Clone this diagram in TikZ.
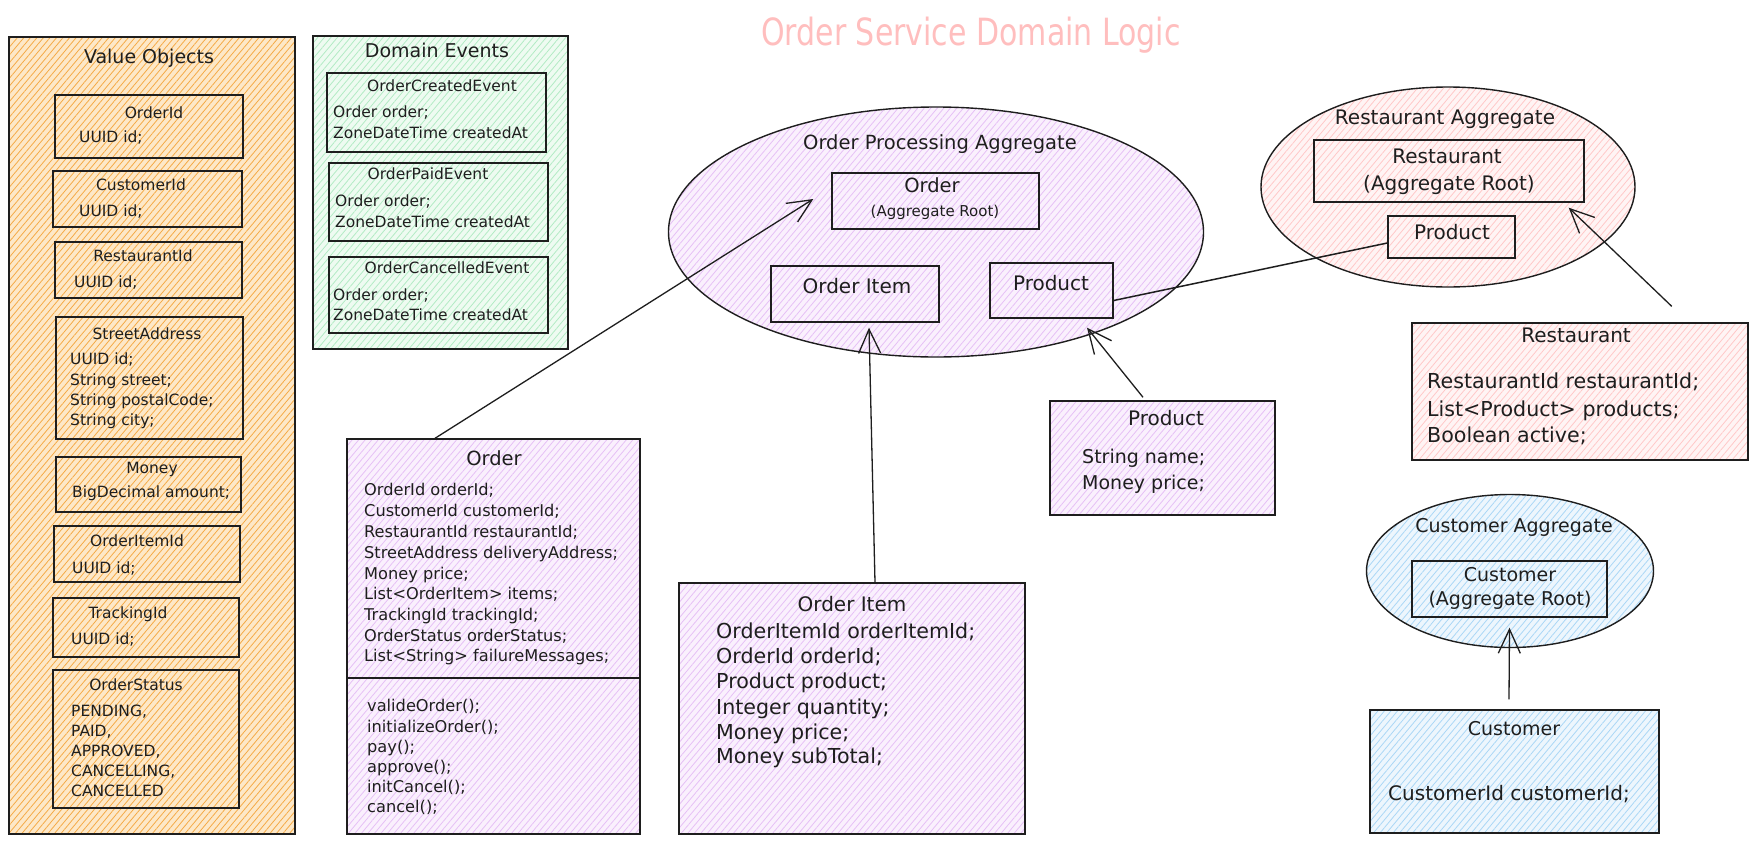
\documentclass[tikz,border=0pt]{standalone}
\usepackage{fontspec}
\setmainfont{DejaVu Sans}
\usetikzlibrary{arrows.meta,shapes.geometric,patterns.meta}

\definecolor{ink}{HTML}{1E1E1E}
\definecolor{voBase}{RGB}{253,232,200}
\definecolor{voLine}{RGB}{245,170,70}
\definecolor{deBase}{RGB}{238,251,241}
\definecolor{deLine}{RGB}{178,235,196}
\definecolor{puBase}{RGB}{250,240,253}
\definecolor{puLine}{RGB}{230,192,246}
\definecolor{piBase}{RGB}{255,244,244}
\definecolor{piLine}{RGB}{255,200,200}
\definecolor{blBase}{RGB}{237,246,253}
\definecolor{blLine}{RGB}{170,215,246}
\definecolor{ttlc}{RGB}{255,190,190}

\tikzset{
  hatch/.style 2 args={preaction={fill=#1}, pattern={Lines[angle=50,distance=5pt,line width=0.8pt]}, pattern color=#2},
  sk/.style={draw=ink, line width=1.4pt},
  rbox/.style n args={4}{rectangle, inner sep=0pt, minimum width={(#3)-(#1)}, minimum height={(#4)-(#2)}, at={({((#1)+(#3))/2},{((#2)+(#4))/2})}},
  ebox/.style n args={4}{ellipse, inner sep=0pt, minimum width=#3, minimum height=#4, at={(#1,#2)}},
  tA/.style={font=\fontsize{15.5}{18}\selectfont, inner sep=0pt, text height=11.5pt, text depth=3.5pt, text=ink},
  tB/.style={font=\fontsize{16.2}{19}\selectfont, inner sep=0pt, text height=12pt, text depth=4pt, text=ink},
  tS/.style={font=\fontsize{15}{18}\selectfont, inner sep=0pt, text height=11pt, text depth=3.5pt, text=ink},
  tC/.style={font=\fontsize{19.5}{23}\selectfont, inner sep=0pt, text height=14.5pt, text depth=5pt, text=ink},
  tD/.style={font=\fontsize{20}{24}\selectfont, inner sep=0pt, text height=15pt, text depth=5pt, text=ink},
  tR/.style={font=\fontsize{20.6}{24}\selectfont, inner sep=0pt, text height=15pt, text depth=5pt, text=ink},
  tP/.style={font=\fontsize{19}{23}\selectfont, inner sep=0pt, text height=14pt, text depth=5pt, text=ink},
  fl/.style={anchor=west},
  arr/.style={draw=ink, line width=1.3pt, -{Straight Barb[length=24pt,width=22pt,line width=1.3pt]}},
  link/.style={draw=ink, line width=1.5pt},
}

\begin{document}
\begin{tikzpicture}[x=1pt,y=-1pt]
\useasboundingbox (0,0) rectangle (1757,844);
\fill[white] (0,0) rectangle (1757,844);

% title
\node[font=\fontsize{30}{36}\selectfont, text=ttlc, inner sep=0pt, yscale=1.25, transform shape] (title) at (971,35) {Order Service Domain Logic};

% ---------------- Value Objects ----------------
\node[sk, hatch={voBase}{voLine}, rbox={9}{37}{295}{834}] (vo) {};
\node[tP] (votitle) at (149,59) {Value Objects};

\node[sk, hatch={voBase}{voLine}, rbox={55}{95}{243}{158}] (oid) {};
\node[tA] (oidt) at (154,114) {OrderId};
\node[tA,fl] (oidf) at (79,138) {UUID id;};

\node[sk, hatch={voBase}{voLine}, rbox={53}{171}{242}{227}] (cid) {};
\node[tA] (cidt) at (141,186) {CustomerId};
\node[tA,fl] (cidf) at (79,212) {UUID id;};

\node[sk, hatch={voBase}{voLine}, rbox={55}{242}{242}{298}] (rid) {};
\node[tA] (ridt) at (143,257) {RestaurantId};
\node[tA,fl] (ridf) at (74,283) {UUID id;};

\node[sk, hatch={voBase}{voLine}, rbox={56}{317}{243}{439}] (sa) {};
\node[tA] (sat) at (147,335) {StreetAddress};
\node[tA,fl] (saf1) at (70,360) {UUID id;};
\node[tA,fl] (saf2) at (70,381) {String street;};
\node[tA,fl] (saf3) at (70,401) {String postalCode;};
\node[tA,fl] (saf4) at (70,421) {String city;};

\node[sk, hatch={voBase}{voLine}, rbox={56}{457}{241}{512}] (mon) {};
\node[tA] (mont) at (152,469) {Money};
\node[tA,fl] (monf) at (72,493) {BigDecimal amount;};

\node[sk, hatch={voBase}{voLine}, rbox={54}{526}{240}{582}] (oiid) {};
\node[tA] (oiidt) at (137,542) {OrderItemId};
\node[tA,fl] (oiidf) at (72,569) {UUID id;};

\node[sk, hatch={voBase}{voLine}, rbox={53}{598}{239}{657}] (tid) {};
\node[tA] (tidt) at (128,614) {TrackingId};
\node[tA,fl] (tidf) at (71,640) {UUID id;};

\node[sk, hatch={voBase}{voLine}, rbox={53}{670}{239}{808}] (os) {};
\node[tA] (ost) at (136,686) {OrderStatus};
\node[tA,fl] (osf1) at (71,712) {PENDING,};
\node[tA,fl] (osf2) at (71,732) {PAID,};
\node[tA,fl] (osf3) at (71,752) {APPROVED,};
\node[tA,fl] (osf4) at (71,772) {CANCELLING,};
\node[tA,fl] (osf5) at (71,792) {CANCELLED};

% ---------------- Domain Events ----------------
\node[sk, hatch={deBase}{deLine}, rbox={313}{36}{568}{349}] (de) {};
\node[tP] (detitle) at (437,53) {Domain Events};

\node[sk, hatch={deBase}{deLine}, rbox={327}{73}{546}{152}] (e1) {};
\node[tA] (e1t) at (442,87) {OrderCreatedEvent};
\node[tA,fl] (e1f1) at (333,113) {Order order;};
\node[tA,fl] (e1f2) at (333,134) {ZoneDateTime createdAt};

\node[sk, hatch={deBase}{deLine}, rbox={329}{163}{548}{241}] (e2) {};
\node[tA] (e2t) at (428,175) {OrderPaidEvent};
\node[tA,fl] (e2f1) at (335,202) {Order order;};
\node[tA,fl] (e2f2) at (335,223) {ZoneDateTime createdAt};

\node[sk, hatch={deBase}{deLine}, rbox={329}{257}{548}{333}] (e3) {};
\node[tA] (e3t) at (447,269) {OrderCancelledEvent};
\node[tA,fl] (e3f1) at (333,296) {Order order;};
\node[tA,fl] (e3f2) at (333,316) {ZoneDateTime createdAt};

% ---------------- Order Processing Aggregate ----------------
\node[sk, hatch={puBase}{puLine}, ebox={936}{232}{535}{250}] (oagg) {};
\node[tC] (oaggt) at (940,145) {Order Processing Aggregate};
\node[sk, hatch={puBase}{puLine}, rbox={832}{173}{1039}{229}] (root) {};
\node[tC] (roott1) at (932,188) {Order};
\node[tS] (roott2) at (935,213) {(Aggregate Root)};
\node[sk, hatch={puBase}{puLine}, rbox={771}{266}{939}{322}] (aitem) {};
\node[tD] (aitemt) at (857,288) {Order Item};
\node[sk, hatch={puBase}{puLine}, rbox={990}{263}{1113}{318}] (aprod) {};
\node[tD] (aprodt) at (1051,285) {Product};

% ---------------- Restaurant Aggregate ----------------
\node[sk, hatch={piBase}{piLine}, ebox={1448}{187}{374}{200}] (ragg) {};
\node[tD] (raggt) at (1445,119) {Restaurant Aggregate};
\node[sk, hatch={piBase}{piLine}, rbox={1314}{140}{1584}{202}] (rroot) {};
\node[tD] (rroott1) at (1447,158) {Restaurant};
\node[tD] (rroott2) at (1449,185) {(Aggregate Root)};
\node[sk, hatch={piBase}{piLine}, rbox={1388}{216}{1515}{258}] (rprod) {};
\node[tD] (rprodt) at (1452,234) {Product};

% ---------------- Customer Aggregate ----------------
\node[sk, hatch={blBase}{blLine}, ebox={1510}{571}{287}{153}] (cagg) {};
\node[tP] (caggt) at (1514,528) {Customer Aggregate};
\node[sk, hatch={blBase}{blLine}, rbox={1412}{561}{1607}{617}] (croot) {};
\node[tP] (croott1) at (1510,577) {Customer};
\node[tP] (croott2) at (1510,601) {(Aggregate Root)};

% ---------------- Order entity ----------------
\node[sk, hatch={puBase}{puLine}, rbox={347}{439}{640}{834}] (ordbox) {};
\node[tC] (ordt) at (494,461) {Order};
\node[tB,fl] (of1) at (364,491) {OrderId orderId;};
\node[tB,fl] (of2) at (364,512) {CustomerId customerId;};
\node[tB,fl] (of3) at (364,533) {RestaurantId restaurantId;};
\node[tB,fl] (of4) at (364,554) {StreetAddress deliveryAddress;};
\node[tB,fl] (of5) at (364,575) {Money price;};
\node[tB,fl] (of6) at (364,595) {List<OrderItem> items;};
\node[tB,fl] (of7) at (364,616) {TrackingId trackingId;};
\node[tB,fl] (of8) at (364,637) {OrderStatus orderStatus;};
\node[tB,fl] (of9) at (364,657) {List<String> failureMessages;};
\coordinate (divl) at (347,678);
\coordinate (divr) at (640,678);
\draw[sk] (divl) -- (divr);
\node[tB,fl] (om1) at (367,707) {valideOrder();};
\node[tB,fl] (om2) at (367,728) {initializeOrder();};
\node[tB,fl] (om3) at (367,748) {pay();};
\node[tB,fl] (om4) at (367,768) {approve();};
\node[tB,fl] (om5) at (367,788) {initCancel();};
\node[tB,fl] (om6) at (367,808) {cancel();};

% ---------------- Order Item entity ----------------
\node[sk, hatch={puBase}{puLine}, rbox={679}{583}{1025}{834}] (itembox) {};
\node[tD] (itemt) at (852,606) {Order Item};
\node[tR,fl] (if1) at (716,633) {OrderItemId orderItemId;};
\node[tR,fl] (if2) at (716,658) {OrderId orderId;};
\node[tR,fl] (if3) at (716,683) {Product product;};
\node[tR,fl] (if4) at (716,709) {Integer quantity;};
\node[tR,fl] (if5) at (716,734) {Money price;};
\node[tR,fl] (if6) at (716,758) {Money subTotal;};

% ---------------- Product entity ----------------
\node[sk, hatch={puBase}{puLine}, rbox={1050}{401}{1275}{515}] (prodbox) {};
\node[tD] (prodt) at (1166,420) {Product};
\node[tP,fl] (pf1) at (1082,459) {String name;};
\node[tP,fl] (pf2) at (1082,485) {Money price;};

% ---------------- Restaurant entity ----------------
\node[sk, hatch={piBase}{piLine}, rbox={1412}{323}{1748}{460}] (rbox) {};
\node[tD] (rboxt) at (1576,337) {Restaurant};
\node[tR,fl] (rf1) at (1427,383) {RestaurantId restaurantId;};
\node[tR,fl] (rf2) at (1427,411) {List<Product> products;};
\node[tR,fl] (rf3) at (1427,437) {Boolean active;};

% ---------------- Customer entity ----------------
\node[sk, hatch={blBase}{blLine}, rbox={1370}{710}{1659}{833}] (cbox) {};
\node[tP] (cboxt) at (1514,731) {Customer};
\node[tD,fl] (cf1) at (1388,795) {CustomerId customerId;};

% ---------------- connectors ----------------
\draw[arr] ([xshift=-58.5pt]ordbox.north) -- ([xshift=-18pt,yshift=2pt]root.west);
\draw[arr] ([xshift=23pt]itembox.north) -- ([xshift=14pt,yshift=-5pt]aitem.south);
\draw[arr] ([xshift=-19.5pt,yshift=3pt]prodbox.north) -- ([xshift=35.5pt,yshift=-9pt]aprod.south);
\draw[link] ([yshift=-10pt]aprod.east) -- ([yshift=-6pt]rprod.west);
\draw[arr] ([xshift=-77pt,yshift=16pt]rbox.north east) -- ([xshift=-16pt,yshift=-5pt]rroot.south east);
\draw[arr] ([xshift=-5.5pt,yshift=10pt]cbox.north) -- ([yshift=-10pt]croot.south);
\end{tikzpicture}
\end{document}
